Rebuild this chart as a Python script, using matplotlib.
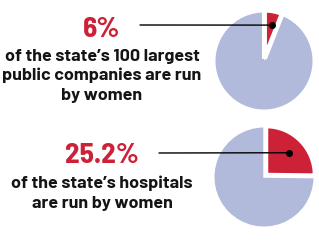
import matplotlib
matplotlib.use("Agg")
import matplotlib.pyplot as plt

# data
pct_labels = ["6%", "25.2%"]
pct_values = [6.0, 25.2]
captions = [["of the state\u2019s 100 largest", "public companies are run", "by women"],
            ["of the state\u2019s hospitals", "are run by women"]]

red = "#cc2136"
grey = "#b1badb"
ink = "#141414"

W, H = 319, 241
fig = plt.figure(figsize=(W / 100, H / 100), dpi=100)
body_font = ["Barlow", "DejaVu Sans"]
big_font = ["Barlow Semi Condensed", "DejaVu Sans"]

# layout in pixels from the top-left corner
pies = [dict(cx=264, cy=61, r=48.5, dot=(0.16, 0.74), lx=140, ly=25),
        dict(cx=264, cy=177, r=49.5, dot=(0.51, 0.49), lx=159, ly=153)]
texts = [dict(px=102, pb=37, lines_b=[61, 80.5, 100]),
         dict(px=102, pb=163, lines_b=[188, 208])]

for val, lab, cap, p, t in zip(pct_values, pct_labels, captions, pies, texts):
    ax = fig.add_axes([(p["cx"] - p["r"]) / W, 1 - (p["cy"] + p["r"]) / H,
                       2 * p["r"] / W, 2 * p["r"] / H])
    wedges, _ = ax.pie([val, 100 - val], colors=[red, grey], startangle=90,
                       counterclock=False, explode=[0.05, 0])
    wedges[0].set_edgecolor("white")
    wedges[0].set_linewidth(3.6)
    wedges[0].set_zorder(3)
    wedges[1].set_linewidth(0)
    ax.set_xlim(-1.0, 1.0)
    ax.set_ylim(-1.0, 1.0)
    ax.set_aspect("auto")
    ax.axis("off")
    for w in wedges:
        w.set_clip_on(False)
    dx, dy = p["dot"]
    ax.plot([dx], [dy], "o", color="black", ms=4, clip_on=False, zorder=5)
    ax.annotate("", xy=(dx, dy), xycoords="data",
                xytext=(p["lx"], H - p["ly"]), textcoords="figure pixels",
                arrowprops=dict(arrowstyle="-", color="black", lw=1,
                                shrinkA=0, shrinkB=0), zorder=5)
    fig.text(t["px"] / W, 1 - t["pb"] / H, lab, color=red, fontsize=21,
             fontweight="bold", family=big_font, ha="center", va="baseline")
    for line, b in zip(cap, t["lines_b"]):
        fig.text(t["px"] / W, 1 - b / H, line, color=ink, fontsize=12.9,
                 fontweight="bold", family=body_font, ha="center",
                 va="baseline")

fig.savefig("out.png", dpi=100)
